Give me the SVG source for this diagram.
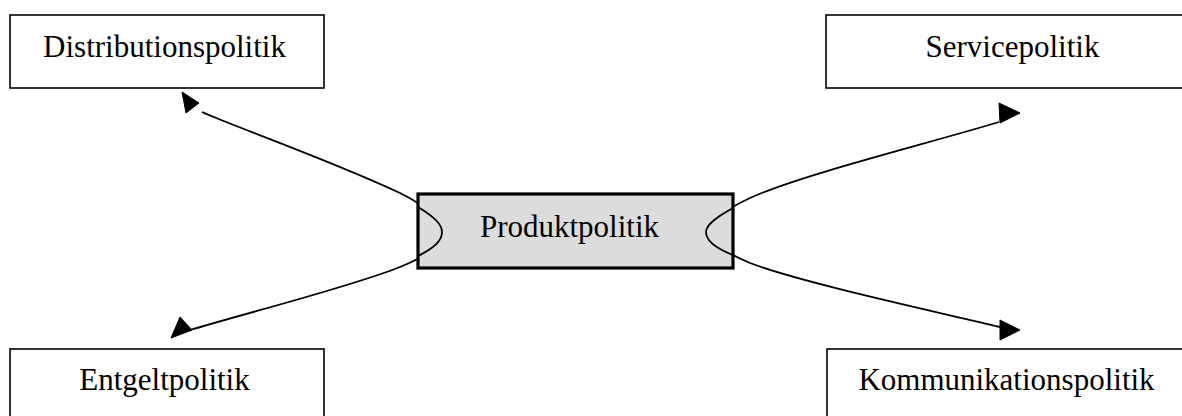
<svg xmlns="http://www.w3.org/2000/svg" width="1182" height="416" viewBox="0 0 1182 416">
<style>
.box{fill:#fff;stroke:#000;stroke-width:1.6}
.center{fill:#dcdcdc;stroke:#000;stroke-width:3.2}
.lbl{font-family:"Liberation Serif","Times New Roman",serif;font-size:31px;fill:#000;text-anchor:middle}
.conn{fill:none;stroke:#000;stroke-width:1.8}
.head{fill:#000;stroke:#000;stroke-width:1}
</style>
<rect width="1182" height="416" fill="#fff"/>
<g id="connectors">
<path class="conn" d="M202,112 C230,125 330,160 400,193 C430,208 442,222 442,232 C442,243 430,255 400,267 C350,287 250,312 190,330"/>
<path class="conn" d="M999,122 C930,143 800,175 750,198 C720,212 706,225 706,232 C706,240 720,250 750,263 C800,282 920,308 1000,327"/>
<polygon class="head" points="182,92 199,103 186,113"/>
<polygon class="head" points="1020,113 999,103 1000,123"/>
<polygon class="head" points="1020,330 1000,320 1000,340"/>
<polygon class="head" points="171,338 180,317 192,330"/>
</g>
<g id="produktpolitik">
<rect class="center" x="418" y="194" width="315" height="74"/>
<path class="conn" d="M418,207 C436,218 442,225 442,232 C442,240 436,247 418,256"/>
<path class="conn" d="M733,208 C715,218 706,225 706,232 C706,240 715,248 733,255"/>
<text class="lbl" x="569.5" y="237">Produktpolitik</text>
</g>
<g id="distributionspolitik">
<rect class="box" x="10" y="15" width="314" height="73"/>
<text class="lbl" x="164.5" y="57">Distributionspolitik</text>
</g>
<g id="servicepolitik">
<rect class="box" x="826" y="15" width="373" height="73"/>
<text class="lbl" x="1012.5" y="57">Servicepolitik</text>
</g>
<g id="entgeltpolitik">
<rect class="box" x="10" y="349" width="314" height="73"/>
<text class="lbl" x="164.5" y="390">Entgeltpolitik</text>
</g>
<g id="kommunikationspolitik">
<rect class="box" x="827" y="349" width="372" height="73"/>
<text class="lbl" x="1006.5" y="390">Kommunikationspolitik</text>
</g>
</svg>
